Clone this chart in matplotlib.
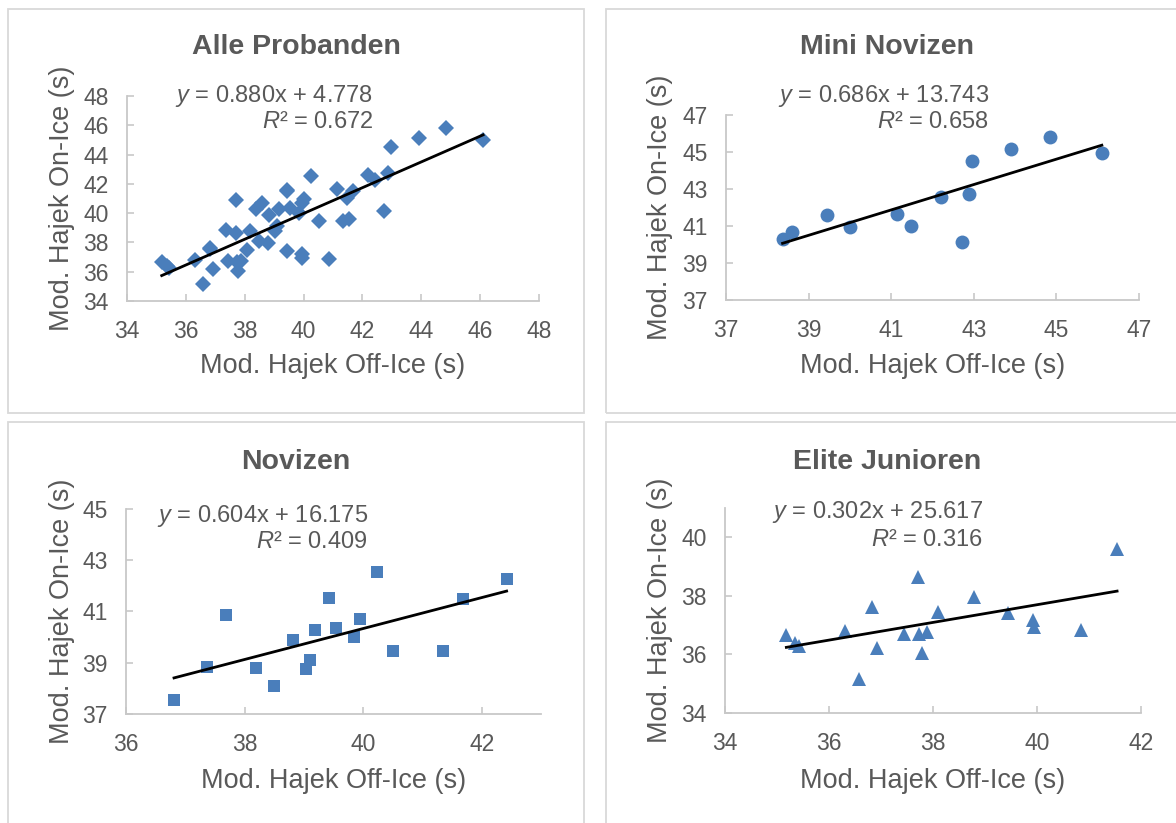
import matplotlib
matplotlib.use("Agg")
import matplotlib.pyplot as plt
from matplotlib.patches import Rectangle
import numpy as np

plt.rcParams['font.family'] = ['Liberation Sans', 'DejaVu Sans']
plt.rcParams['mathtext.fontset'] = 'custom'
plt.rcParams['mathtext.rm'] = 'Liberation Sans'
plt.rcParams['mathtext.it'] = 'Liberation Sans:italic'

# --- data ---
mini_x = [38.37, 38.60, 39.45, 40.00, 41.13, 41.49, 42.20, 42.72, 42.88, 42.96, 43.91, 44.85, 46.10]
mini_y = [40.28, 40.69, 41.58, 40.96, 41.66, 41.02, 42.58, 40.12, 42.75, 44.51, 45.16, 45.79, 44.97]

nov_x = [36.81, 37.37, 37.69, 38.19, 38.50, 38.81, 39.03, 39.11, 39.18, 39.42, 39.55, 39.84,
         39.95, 40.24, 40.51, 41.35, 41.68, 42.42]
nov_y = [37.55, 38.84, 40.88, 38.78, 38.09, 39.88, 38.75, 39.09, 40.27, 41.51, 40.34, 40.01,
         40.69, 42.54, 39.45, 39.47, 41.49, 42.27]

elite_x = [35.18, 35.35, 35.42, 36.31, 36.58, 36.83, 36.93, 37.44, 37.72, 37.74, 37.78, 37.89,
           38.09, 38.78, 39.44, 39.93, 39.95, 40.85, 41.54]
elite_y = [36.66, 36.38, 36.28, 36.81, 35.16, 37.63, 36.21, 36.70, 38.63, 36.69, 36.04, 36.76,
           37.46, 37.96, 37.41, 37.18, 36.95, 36.84, 39.61]

all_x = mini_x + nov_x + elite_x
all_y = mini_y + nov_y + elite_y

titles = ["Alle Probanden", "Mini Novizen", "Novizen", "Elite Junioren"]
slopes = [0.880, 0.686, 0.604, 0.302]
intercepts = [4.778, 13.743, 16.175, 25.617]
r2 = [0.672, 0.658, 0.409, 0.316]
markers = ["D", "o", "s", "^"]
xlims = [(34, 48), (37, 47), (36, 43), (34, 42)]
ylims = [(34, 48), (37, 47), (37, 45), (34, 41)]
xticks = [range(34, 49, 2), range(37, 48, 2), range(36, 43, 2), range(34, 43, 2)]
yticks = [range(34, 49, 2), range(37, 48, 2), range(37, 46, 2), range(34, 41, 2)]

W, H = 1176, 823
fig = plt.figure(figsize=(W / 100, H / 100), dpi=100)

def fx(px):
    return px / W

def fy(py):
    return 1 - py / H

TXT = '#595959'
BLUE = '#4A7EBB'
AX = '#c8c8c8'

# axes boxes in pixels: left, top, right, bottom
boxes = [(127, 96, 539, 301), (726, 115, 1139, 300), (126, 509, 541, 714), (725, 508, 1141, 713)]
frames = [(8, 9, 584, 413), (606, 9, 1180, 413), (8, 422, 584, 830), (606, 422, 1180, 830)]
eq_pos = [(373, 96, 122), (989, 96, 122), (368, 516, 542), (983, 512, 540)]
title_y = [47, 47, 462, 462]
xlab_y = [366, 366, 781, 781]
ylab_x = [62, 660, 62, 660]

datasets = [(all_x, all_y), (mini_x, mini_y), (nov_x, nov_y), (elite_x, elite_y)]
msizes = [7.8, 10, 9, 10.5]

for i in range(4):
    fl, ft, fr, fb = frames[i]
    fig.patches.append(Rectangle((fx(fl), fy(fb)), fx(fr - fl), (fb - ft) / H, transform=fig.transFigure,
                                 fill=False, edgecolor='#d9d9d9', linewidth=1.3))
    l, t, r, b = boxes[i]
    ax = fig.add_axes([fx(l), fy(b), fx(r - l), (b - t) / H])
    x, y = datasets[i]
    ax.plot(x, y, linestyle='none', marker=markers[i], markersize=msizes[i],
            color=BLUE, markeredgewidth=0, zorder=3)
    xs = np.array([min(x), max(x)])
    ax.plot(xs, slopes[i] * xs + intercepts[i], color='black', linewidth=2, zorder=4)
    ax.set_xlim(*xlims[i])
    ax.set_ylim(*ylims[i])
    ax.set_xticks(list(xticks[i]))
    ax.set_yticks(list(yticks[i]))
    for s in ['top', 'right']:
        ax.spines[s].set_visible(False)
    for s in ['left', 'bottom']:
        ax.spines[s].set_color(AX)
        ax.spines[s].set_linewidth(1.3)
    ax.tick_params(direction='in', length=5, width=1.2, color=AX, labelsize=16.5, labelcolor=TXT)
    ax.tick_params(axis='x', pad=14)
    ax.tick_params(axis='y', pad=13)

    cx = (fl + min(fr, 1168)) / 2
    fig.text(fx(cx), fy(title_y[i]), titles[i], ha='center', va='center',
             fontsize=20.5, fontweight='bold', color=TXT)
    fig.text(fx((l + r) / 2), fy(xlab_y[i]), "Mod. Hajek Off-Ice (s)", ha='center', va='center',
             fontsize=19.5, color=TXT)
    fig.text(fx(ylab_x[i]), fy((t + b) / 2), "Mod. Hajek On-Ice (s)", ha='center', va='center',
             rotation=90, fontsize=19.5, color=TXT)
    ex, ey1, ey2 = eq_pos[i]
    fig.text(fx(ex), fy(ey1), "$y$ = %.3fx + %.3f" % (slopes[i], intercepts[i]), ha='right',
             va='center', fontsize=17, color=TXT)
    fig.text(fx(ex), fy(ey2), "$R$² = %.3f" % r2[i], ha='right', va='center', fontsize=17, color=TXT)

fig.savefig("out.png", dpi=100)
